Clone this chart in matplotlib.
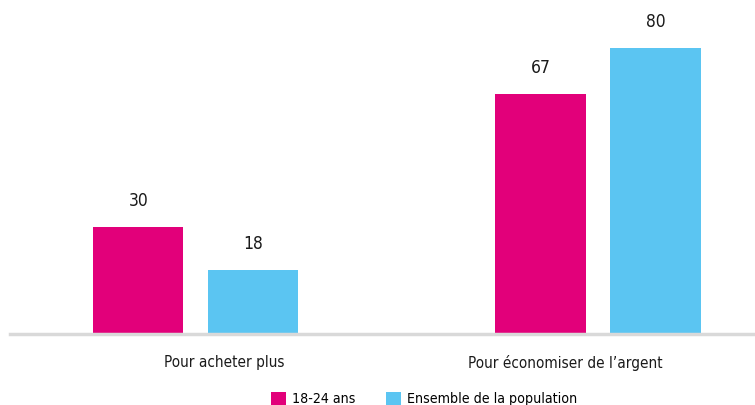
import numpy as np
import matplotlib.pyplot as plt

plt.rcParams['font.family'] = ['DejaVu Sans']
plt.rcParams['font.stretch'] = 'condensed'

categories = ["Pour acheter plus", "Pour économiser de l\u2019argent"]
series_names = ["18-24 ans", "Ensemble de la population"]
jeunes = [30, 67]
ensemble = [18, 80]
colors = ["#E2007A", "#5BC5F2"]

fig = plt.figure(figsize=(7.55, 4.05), dpi=100)
ax = fig.add_axes([10 / 755, 71 / 405, 745 / 755, 334 / 405])

x = np.arange(len(categories))
w = 0.225
off = 0.1425
b1 = ax.bar(x - off, jeunes, w, color=colors[0], label=series_names[0])
b2 = ax.bar(x + off, ensemble, w, color=colors[1], label=series_names[1])

for bars, vals in [(b1, jeunes), (b2, ensemble)]:
    for rect, v in zip(bars, vals):
        ax.text(rect.get_x() + rect.get_width() / 2, v + 7.3, str(v),
                ha='center', va='center', fontsize=12.5, color='#1a1a1a')

ax.set_xlim(-0.461, 1.390)
ax.set_ylim(0, 93.4)
ax.set_yticks([])
# category labels sit a bit off the group centres in the original
ax.set_xticks(x + np.array([0.072, -0.082]))
ax.set_xticklabels(categories, fontsize=11, color='#1a1a1a')
ax.tick_params(axis='x', length=0, pad=15)
for s in ['top', 'right', 'left']:
    ax.spines[s].set_visible(False)
ax.spines['bottom'].set_color('#D9D9D9')
ax.spines['bottom'].set_linewidth(2.5)

fig.legend(handles=[b1, b2], loc='lower center', bbox_to_anchor=(0.562, -0.035),
           ncol=2, frameon=False, fontsize=10.2, handlelength=1.0,
           handleheight=1.0, handletextpad=0.45, columnspacing=2.2)

fig.savefig('out.png', dpi=100)
